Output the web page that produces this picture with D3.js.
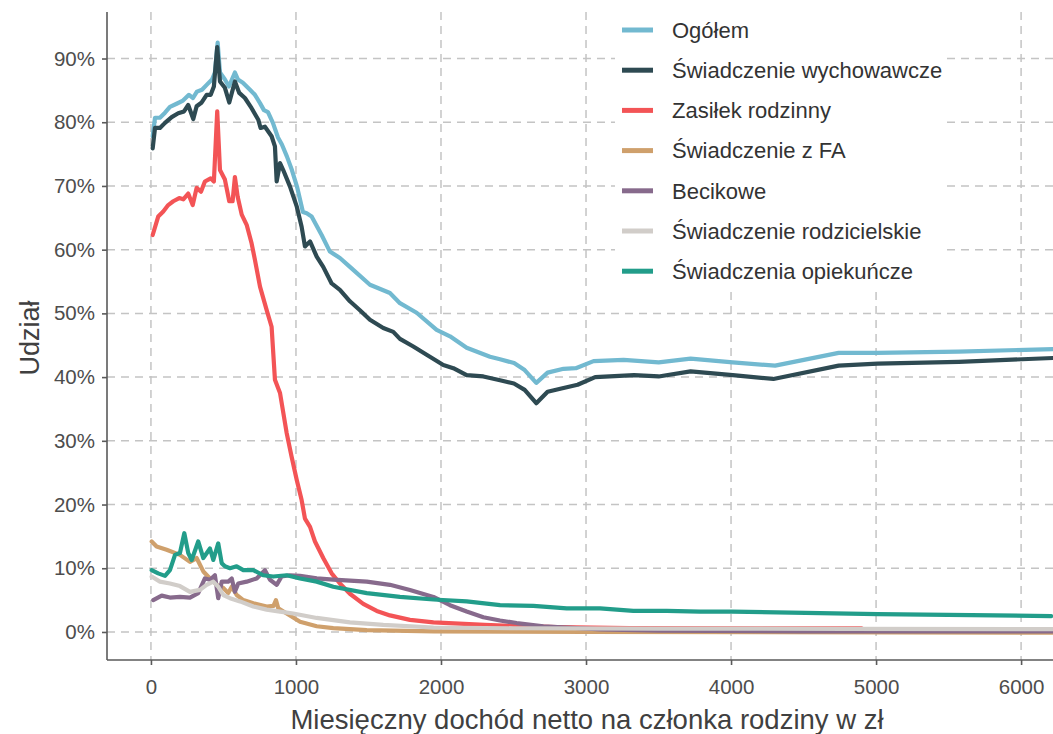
<!DOCTYPE html>
<html>
<head>
<meta charset="utf-8">
<script src="https://cdn.jsdelivr.net/npm/d3@7"></script>
<style>
  html, body { margin: 0; padding: 0; background: #ffffff; }
  svg { display: block; font-family: "Liberation Sans", Arial, sans-serif; }
</style>
</head>
<body>
<svg id="chart" width="1053" height="734"></svg>
<script>
// Series names, in drawing / legend order
const seriesNames = [
  "Ogółem",
  "Świadczenie wychowawcze",
  "Zasiłek rodzinny",
  "Świadczenie z FA",
  "Becikowe",
  "Świadczenie rodzicielskie",
  "Świadczenia opiekuńcze"
];
const seriesColors = ["#72b9d0", "#2e4a52", "#f35456", "#cfa06c", "#876a8c", "#d1cdc9", "#229d8a"];

// [income per family member in zł, share in %]
const ogolem = [
  [12,77.8],[28,80.7],[62,80.7],[97,81.5],[131,82.4],[177,82.9],[221,83.4],[262,84.3],[290,83.8],[317,84.8],
  [352,85.1],[386,85.9],[421,86.7],[441,87.8],[460,92.5],[476,87.8],[510,86.7],[538,85.6],[579,87.8],[600,86.7],
  [634,86.2],[683,85.1],[717,84.3],[752,83.0],[779,81.9],[807,81.6],[841,79.9],[876,77.6],[903,76.5],[938,74.6],
  [972,72.5],[1007,69.9],[1048,65.9],[1074,65.7],[1108,65.2],[1177,62.3],[1234,59.7],[1303,58.7],[1372,57.3],
  [1510,54.5],[1648,53.2],[1717,51.6],[1832,50.1],[1970,47.4],[2062,46.4],[2177,44.6],[2338,43.2],[2407,42.8],
  [2504,42.2],[2577,41.1],[2657,39.1],[2735,40.7],[2845,41.3],[2930,41.4],[3052,42.5],[3259,42.7],[3501,42.3],
  [3721,42.9],[4012,42.3],[4304,41.8],[4742,43.8],[5010,43.8],[5570,44.0],[6221,44.4]
];
const wychowawcze = [
  [12,75.9],[28,79.1],[62,79.1],[97,79.9],[143,80.8],[188,81.4],[228,81.7],[257,82.7],[292,80.5],[315,82.5],
  [350,83.1],[384,84.3],[412,84.3],[434,85.6],[457,91.8],[476,86.4],[510,85.4],[540,83.1],[579,86.4],[609,84.6],
  [648,83.8],[694,82.2],[740,80.4],[756,79.1],[786,79.3],[832,77.8],[855,76.2],[867,70.7],[890,73.6],[912,72.5],
  [959,69.9],[1005,66.8],[1039,63.6],[1062,60.5],[1097,61.3],[1143,58.9],[1188,57.3],[1246,54.7],[1303,53.7],
  [1372,51.9],[1441,50.5],[1510,49.0],[1602,47.7],[1671,47.1],[1717,46.0],[1809,44.8],[1901,43.5],[2016,41.9],
  [2085,41.4],[2177,40.3],[2292,40.1],[2407,39.5],[2503,39.0],[2577,38.0],[2657,35.9],[2735,37.7],[2845,38.3],
  [2942,38.8],[3063,40.0],[3331,40.3],[3501,40.1],[3721,40.9],[4012,40.3],[4292,39.7],[4742,41.8],[5010,42.1],
  [5570,42.4],[6221,43.0]
];
const zasilek = [
  [12,62.3],[50,65.2],[85,66.0],[119,67.0],[154,67.6],[195,68.1],[223,67.9],[257,68.8],[288,67.0],[315,69.7],
  [345,69.1],[372,70.7],[412,71.2],[434,70.7],[457,81.7],[476,72.5],[510,71.0],[540,67.6],[563,67.6],[579,71.4],
  [598,68.3],[626,65.5],[660,63.9],[694,61.0],[717,58.4],[752,54.2],[798,50.5],[832,47.9],[855,39.6],[890,37.5],
  [936,31.2],[970,27.5],[1005,23.9],[1039,20.7],[1062,17.8],[1097,16.5],[1131,14.2],[1188,11.6],[1246,9.2],
  [1303,7.6],[1372,6.0],[1464,4.4],[1557,3.3],[1648,2.6],[1786,1.9],[1948,1.5],[2300,1.1],[2800,0.75],[3300,0.6],
  [4200,0.55],[4900,0.55]
];
const fa = [
  [5,14.2],[39,13.4],[108,12.9],[200,12.1],[269,11.0],[315,11.6],[361,9.5],[407,8.4],[453,7.4],[499,6.9],
  [533,6.1],[557,7.1],[591,5.8],[637,5.0],[706,4.5],[798,4.0],[845,4.1],[862,5.0],[878,3.7],[936,2.9],
  [1028,1.6],[1143,0.9],[1257,0.6],[1488,0.3],[1948,0.1],[3000,0.0],[6221,-0.1]
];
const becikowe = [
  [16,5.0],[74,5.7],[131,5.4],[200,5.5],[269,5.4],[326,6.1],[372,8.4],[407,8.2],[441,8.9],[464,5.3],
  [488,7.9],[533,7.9],[557,8.4],[579,6.3],[602,7.6],[660,7.9],[729,8.4],[786,9.7],[821,8.2],[867,7.4],
  [901,8.7],[959,8.9],[1028,8.8],[1143,8.4],[1257,8.2],[1488,7.9],[1648,7.4],[1786,6.6],[1948,5.5],[2062,4.2],
  [2177,3.2],[2292,2.3],[2407,1.8],[2522,1.4],[2706,0.9],[2867,0.7],[3100,0.4],[3500,0.2],[4500,0.1],[6221,0.1]
];
const rodzicielskie = [
  [5,8.7],[62,7.9],[131,7.6],[200,7.2],[269,6.3],[338,6.6],[384,7.4],[430,7.9],[464,7.1],[499,5.8],
  [545,5.3],[614,4.8],[706,4.0],[798,3.5],[890,3.2],[981,2.9],[1143,2.2],[1372,1.5],[1602,1.1],[1948,0.7],
  [2500,0.58],[3500,0.52],[4800,0.5],[6221,0.45]
];
const opiekuncze = [
  [5,9.7],[50,9.2],[97,8.8],[131,9.7],[166,12.1],[200,12.4],[230,15.5],[257,12.4],[281,11.3],[326,14.2],
  [361,11.6],[407,13.1],[430,11.3],[464,13.9],[488,10.8],[510,10.3],[545,10.0],[591,10.3],[637,9.7],[706,9.7],
  [774,8.9],[843,8.7],[936,8.9],[1028,8.4],[1143,7.9],[1257,7.1],[1488,6.1],[1717,5.5],[1948,5.1],[2177,4.8],
  [2407,4.2],[2637,4.1],[2867,3.7],[3097,3.7],[3326,3.3],[3557,3.3],[3786,3.2],[4010,3.2],[5012,2.8],[6207,2.5]
];
const seriesData = [ogolem, wychowawcze, zasilek, fa, becikowe, rodzicielskie, opiekuncze];

const xTicks = [0, 1000, 2000, 3000, 4000, 5000, 6000];
const yTicks = [0, 10, 20, 30, 40, 50, 60, 70, 80, 90];
const xTitle = "Miesięczny dochód netto na członka rodziny w zł";
const yTitle = "Udział";

const svg = d3.select("#chart");
const plot = { left: 107, right: 1053, top: 12, bottom: 660 };

const x = d3.scaleLinear().domain([-303, 6220]).range([plot.left, plot.right]);
const y = d3.scaleLinear().domain([-4.4, 97.3]).range([plot.bottom, plot.top]);

// grid
const grid = svg.append("g").attr("stroke", "#c4c4c4").attr("stroke-width", 1.5)
  .attr("stroke-dasharray", "8,6");
grid.selectAll("line.gx").data(xTicks).join("line")
  .attr("x1", d => x(d)).attr("x2", d => x(d))
  .attr("y1", plot.top).attr("y2", plot.bottom);
grid.selectAll("line.gy").data(yTicks).join("line")
  .attr("x1", plot.left).attr("x2", plot.right)
  .attr("y1", d => y(d)).attr("y2", d => y(d));

// clip lines to the panel
svg.append("clipPath").attr("id", "panel").append("rect")
  .attr("x", plot.left).attr("y", plot.top)
  .attr("width", plot.right - plot.left).attr("height", plot.bottom - plot.top);

const line = d3.line().x(d => x(d[0])).y(d => y(d[1]));
svg.append("g").attr("clip-path", "url(#panel)")
  .selectAll("path").data(seriesData).join("path")
  .attr("d", line)
  .attr("fill", "none")
  .attr("stroke", (d, i) => seriesColors[i])
  .attr("stroke-width", 4.2)
  .attr("stroke-linejoin", "round")
  .attr("stroke-linecap", "round");

// axes
const axisColor = "#5a5a5a";
const xAxis = svg.append("g").attr("transform", `translate(0,${plot.bottom})`)
  .call(d3.axisBottom(x).tickValues(xTicks).tickFormat(d3.format("d")).tickSize(5).tickPadding(14));
const yAxis = svg.append("g").attr("transform", `translate(${plot.left},0)`)
  .call(d3.axisLeft(y).tickValues(yTicks).tickFormat(d => d + "%").tickSize(5).tickPadding(7));
[xAxis, yAxis].forEach(a => {
  a.select(".domain").attr("stroke", axisColor).attr("stroke-width", 1.6);
  a.selectAll(".tick line").attr("stroke", axisColor).attr("stroke-width", 1.6);
  a.selectAll(".tick text").attr("fill", "#4d4d4d").attr("font-size", 20.5)
    .attr("font-family", "Liberation Sans, Arial, sans-serif");
});
xAxis.select(".domain").attr("d", `M${plot.left},0H${plot.right}`);
yAxis.select(".domain").attr("d", `M0,${plot.top}V${plot.bottom}`);

// axis titles
svg.append("text")
  .attr("x", 587).attr("y", 729)
  .attr("text-anchor", "middle").attr("font-size", 27.5).attr("fill", "#404040")
  .text(xTitle);
svg.append("text")
  .attr("transform", `translate(39,338) rotate(-90)`)
  .attr("text-anchor", "middle").attr("font-size", 27).attr("fill", "#404040")
  .text(yTitle);

// legend
const legend = svg.append("g").attr("transform", "translate(615,10)");
legend.append("rect").attr("x", 0).attr("y", 0).attr("width", 330).attr("height", 282)
  .attr("fill", "#ffffff");
const items = legend.selectAll("g.item").data(seriesNames).join("g")
  .attr("transform", (d, i) => `translate(0,${20 + i * 40.2})`);
items.append("line")
  .attr("x1", 7).attr("x2", 38).attr("y1", 0).attr("y2", 0)
  .attr("stroke", (d, i) => seriesColors[i]).attr("stroke-width", 5);
items.append("text")
  .attr("x", 57).attr("y", 0).attr("dy", "0.35em")
  .attr("font-size", 22).attr("fill", "#333333")
  .text(d => d);
</script>
</body>
</html>
